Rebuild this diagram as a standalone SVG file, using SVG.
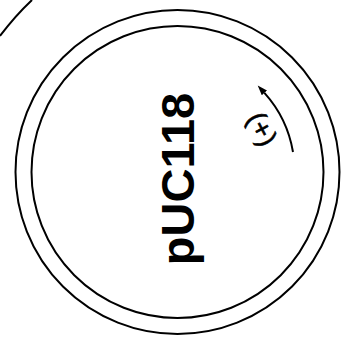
<svg xmlns="http://www.w3.org/2000/svg" width="344" height="337" viewBox="0 0 344 337">
  <defs>
    <style>
      .ring { fill: none; stroke: #000; stroke-width: 2; }
      .lbl { font-family: "Liberation Sans", Arial, sans-serif; fill: #000; }
    </style>
    <marker id="ah" markerUnits="userSpaceOnUse" markerWidth="12" markerHeight="10" refX="0" refY="3.5" orient="auto">
      <path d="M0,0 L10,3.5 L0,7 z" fill="#000"/>
    </marker>
  </defs>
  <rect width="344" height="337" fill="#fff"/>
  <g id="plasmid">
    <circle class="ring" cx="177.5" cy="172" r="162"/>
    <circle class="ring" cx="177.5" cy="172" r="146"/>
  </g>
  <g id="fragment">
    <path class="ring" d="M0,36 Q15,16 32,0"/>
  </g>
  <g id="name">
    <text class="lbl" transform="translate(194,179) rotate(-90)" text-anchor="middle" font-size="47" font-weight="bold">pUC118</text>
  </g>
  <g id="strand">
    <text class="lbl" transform="translate(262,129) rotate(62)" text-anchor="middle" dominant-baseline="central" font-size="27" stroke="#000" stroke-width="0.6">(+)</text>
  </g>
  <g id="connectors">
    <path d="M293,152 A117.5,117.5 0 0 0 264.4,92.9" fill="none" stroke="#000" stroke-width="2" marker-end="url(#ah)"/>
  </g>
</svg>
